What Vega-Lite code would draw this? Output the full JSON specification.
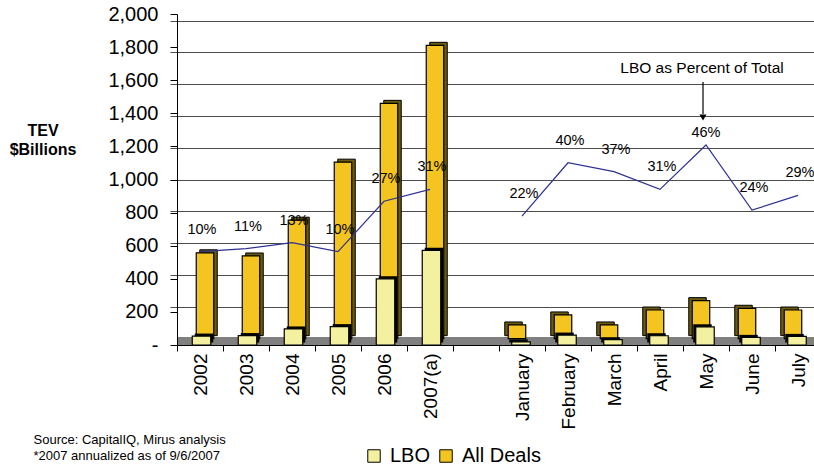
{
  "$schema": "https://vega.github.io/schema/vega-lite/v6.json",
  "autosize": "none",
  "width": 637,
  "height": 331,
  "padding": {"left": 177, "top": 14, "right": 0, "bottom": 122},
  "background": "white",
  "config": {
    "view": {"stroke": null},
    "font": "Liberation Sans",
    "text": {"font": "Liberation Sans"}
  },
  "data": {
    "values": [
      {"label": "2002", "period": "Annual", "lbo": 54, "all": 540, "pct": 0.10},
      {"label": "2003", "period": "Annual", "lbo": 57, "all": 520, "pct": 0.11},
      {"label": "2004", "period": "Annual", "lbo": 97, "all": 745, "pct": 0.13},
      {"label": "2005", "period": "Annual", "lbo": 111, "all": 1110, "pct": 0.10},
      {"label": "2006", "period": "Annual", "lbo": 400, "all": 1480, "pct": 0.27},
      {"label": "2007(a)", "period": "Annual", "lbo": 572, "all": 1845, "pct": 0.31},
      {"label": "January", "period": "Monthly", "lbo": 19, "all": 86, "pct": 0.22},
      {"label": "February", "period": "Monthly", "lbo": 60, "all": 149, "pct": 0.40},
      {"label": "March", "period": "Monthly", "lbo": 32, "all": 86, "pct": 0.37},
      {"label": "April", "period": "Monthly", "lbo": 56, "all": 180, "pct": 0.31},
      {"label": "May", "period": "Monthly", "lbo": 110, "all": 239, "pct": 0.46},
      {"label": "June", "period": "Monthly", "lbo": 46, "all": 191, "pct": 0.24},
      {"label": "July", "period": "Monthly", "lbo": 52, "all": 180, "pct": 0.29}
    ]
  },
  "encoding": {
    "x": {
      "field": "label",
      "type": "nominal",
      "scale": {
        "domain": ["2002", "2003", "2004", "2005", "2006", "2007(a)", " ", "January", "February", "March", "April", "May", "June", "July"],
        "range": [0, 644],
        "paddingInner": 0,
        "paddingOuter": 0
      },
      "axis": {
        "orient": "bottom",
        "labelAngle": 270,
        "labelFontSize": 19,
        "labelColor": "black",
        "labelPadding": 2,
        "tickBand": "extent",
        "tickSize": 6,
        "tickColor": "black",
        "domainColor": "black",
        "grid": false,
        "zindex": 1,
        "title": ["Source: CapitalIQ, Mirus analysis", "*2007 annualized as of 9/6/2007"],
        "titleFontSize": 13,
        "titleFontWeight": "normal",
        "titleColor": "black",
        "titleAlign": "left",
        "titleBaseline": "top",
        "titleX": -144,
        "titleY": 88,
        "titleLineHeight": 16
      }
    }
  },
  "layer": [
    {
      "encoding": {
        "y": {
          "field": "all",
          "type": "quantitative",
          "scale": {"domain": [-40, 2042], "nice": false, "zero": false},
          "axis": {
            "orient": "right",
            "values": [200, 400, 600, 800, 1000, 1200, 1400, 1600, 1800, 2000],
            "grid": true,
            "gridColor": "#4d4d4d",
            "gridWidth": 1,
            "labels": false,
            "ticks": false,
            "domain": false,
            "title": null
          }
        }
      },
      "layer": [
        {
          "data": {"values": [{"first": "2002", "last": "July", "front": -40, "back": 10}]},
          "mark": {"type": "rect", "color": "#808080"},
          "encoding": {
            "x": {"field": "first", "type": "nominal", "bandPosition": 0},
            "x2": {"field": "last", "bandPosition": 1},
            "y": {"field": "front", "type": "quantitative", "scale": {"domain": [-40, 2042], "nice": false, "zero": false}},
            "y2": {"field": "back"}
          }
        },
        {
          "transform": [{"filter": "datum.period == 'Annual'"}],
          "mark": {"type": "bar", "fill": "#6b5a12", "stroke": "black", "strokeWidth": 1, "width": 17.5, "xOffset": 8.5, "yOffset": -3, "y2Offset": -3}
        },
        {
          "transform": [{"filter": "datum.period == 'Monthly'"}],
          "mark": {"type": "bar", "fill": "#6b5a12", "stroke": "black", "strokeWidth": 1, "width": 17.5, "xOffset": -8.5, "yOffset": -3, "y2Offset": -3}
        },
        {
          "transform": [{"filter": "datum.period == 'Annual'"}],
          "mark": {"type": "bar", "stroke": "black", "strokeWidth": 1.2, "width": 17.5, "xOffset": 5},
          "encoding": {
            "fill": {
              "datum": "All Deals",
              "scale": {"domain": ["LBO", "All Deals"], "range": ["#F3F0A0", "#F4C420"]},
              "legend": {
                "orient": "none",
                "direction": "horizontal",
                "legendX": 187,
                "legendY": 432,
                "title": null,
                "symbolType": "square",
                "symbolSize": 155,
                "symbolStrokeColor": "black",
                "symbolStrokeWidth": 1,
                "labelFontSize": 20,
                "labelColor": "black",
                "labelOffset": 6,
                "columnPadding": 5
              }
            }
          }
        },
        {
          "transform": [{"filter": "datum.period == 'Monthly'"}],
          "mark": {"type": "bar", "stroke": "black", "strokeWidth": 1.2, "width": 17.5, "xOffset": -5},
          "encoding": {"fill": {"datum": "All Deals"}}
        }
      ]
    },
    {
      "encoding": {
        "y": {
          "field": "lbo",
          "type": "quantitative",
          "scale": {"domain": [0, 2000], "nice": false, "zero": true},
          "axis": {
            "orient": "left",
            "values": [0, 200, 400, 600, 800, 1000, 1200, 1400, 1600, 1800, 2000],
            "labelExpr": "datum.value == 0 ? '-' : format(datum.value, ',')",
            "labelFontSize": 20,
            "labelColor": "black",
            "labelPadding": 12,
            "tickSize": 7,
            "tickColor": "black",
            "domainColor": "black",
            "grid": false,
            "zindex": 1,
            "title": ["TEV", "$Billions"],
            "titleFontSize": 16,
            "titleFontWeight": "bold",
            "titleColor": "black",
            "titleAngle": 0,
            "titleAlign": "center",
            "titleBaseline": "top",
            "titleX": -134.5,
            "titleY": 108,
            "titleLineHeight": 19
          }
        }
      },
      "layer": [
        {
          "transform": [{"filter": "datum.period == 'Annual'"}],
          "mark": {"type": "bar", "fill": "black", "width": 18.5, "xOffset": 4, "yOffset": -2.5, "y2Offset": -2.5}
        },
        {
          "transform": [{"filter": "datum.period == 'Monthly'"}],
          "mark": {"type": "bar", "fill": "black", "width": 18.5, "xOffset": -3.5, "yOffset": -2.5, "y2Offset": -2.5}
        },
        {
          "transform": [{"filter": "datum.period == 'Annual'"}],
          "mark": {"type": "bar", "stroke": "black", "strokeWidth": 1.2, "width": 18.5, "xOffset": 1.5},
          "encoding": {"fill": {"datum": "LBO"}}
        },
        {
          "transform": [{"filter": "datum.period == 'Monthly'"}],
          "mark": {"type": "bar", "stroke": "black", "strokeWidth": 1.2, "width": 18.5, "xOffset": -1},
          "encoding": {"fill": {"datum": "LBO"}}
        }
      ]
    },
    {
      "encoding": {
        "y": {
          "field": "pct",
          "type": "quantitative",
          "scale": {"domain": [-0.2157, 0.9026], "nice": false, "zero": false},
          "axis": null
        }
      },
      "layer": [
        {
          "mark": {"type": "line", "color": "#2E3192", "strokeWidth": 1.2},
          "encoding": {"detail": {"field": "period"}}
        },
        {
          "transform": [{"filter": "datum.label != 'May'"}],
          "mark": {"type": "text", "fontSize": 14.5, "color": "black", "dy": -22, "dx": 2},
          "encoding": {"text": {"field": "pct", "format": ".0%"}}
        },
        {
          "transform": [{"filter": "datum.label == 'May'"}],
          "mark": {"type": "text", "fontSize": 14.5, "color": "black", "dy": -12},
          "encoding": {"text": {"field": "pct", "format": ".0%"}}
        },
        {
          "data": {"values": [{"note": "LBO as Percent of Total", "at": "May", "level": 0.72}]},
          "mark": {"type": "text", "fontSize": 15.5, "color": "black", "xOffset": -4},
          "encoding": {
            "x": {"field": "at", "type": "nominal"},
            "y": {"field": "level", "type": "quantitative", "scale": {"domain": [-0.2157, 0.9026], "nice": false, "zero": false}, "axis": null},
            "text": {"field": "note"}
          }
        },
        {
          "data": {"values": [{"at": "May", "from": 0.673, "to": 0.565}]},
          "mark": {"type": "rule", "color": "black", "strokeWidth": 1.2, "xOffset": -3},
          "encoding": {
            "x": {"field": "at", "type": "nominal"},
            "y": {"field": "from", "type": "quantitative", "scale": {"domain": [-0.2157, 0.9026], "nice": false, "zero": false}, "axis": null},
            "y2": {"field": "to"}
          }
        },
        {
          "data": {"values": [{"at": "May", "tip": 0.553}]},
          "mark": {"type": "point", "shape": "triangle-down", "filled": true, "color": "black", "size": 50, "opacity": 1, "xOffset": -3},
          "encoding": {
            "x": {"field": "at", "type": "nominal"},
            "y": {"field": "tip", "type": "quantitative", "scale": {"domain": [-0.2157, 0.9026], "nice": false, "zero": false}, "axis": null}
          }
        }
      ]
    }
  ],
  "resolve": {"scale": {"y": "independent"}, "axis": {"y": "independent"}}
}
